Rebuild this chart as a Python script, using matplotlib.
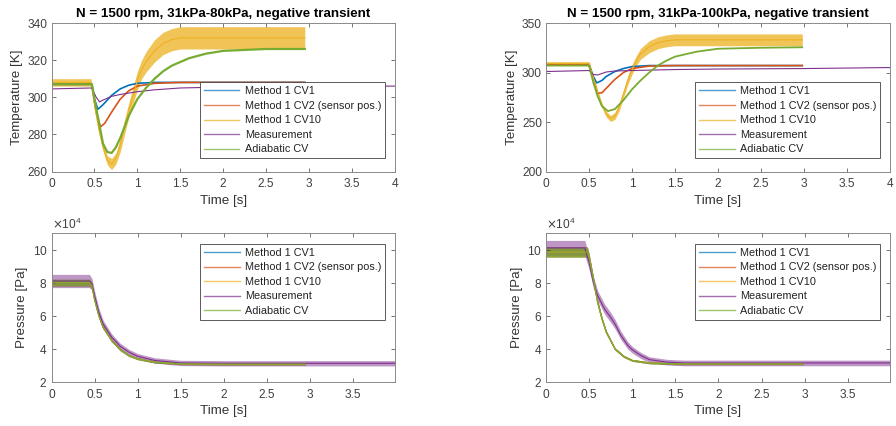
import numpy as np
import matplotlib.pyplot as plt
from matplotlib.lines import Line2D
from matplotlib.ticker import FuncFormatter, MultipleLocator

plt.rcParams['font.family'] = ['Liberation Sans', 'DejaVu Sans']

labels = ['Method 1 CV1', 'Method 1 CV2 (sensor pos.)', 'Method 1 CV10', 'Measurement', 'Adiabatic CV']
colors = ['#0072BD', '#D95319', '#EDB120', '#7E2F8E', '#77AC30']
titles = ['N = 1500 rpm, 31kPa-80kPa, negative transient',
          'N = 1500 rpm, 31kPa-100kPa, negative transient']

# ---- 31kPa-80kPa, temperature [K]
t80_cv1 = [0, 0.47, 0.5, 0.54, 0.6, 0.7, 0.8, 0.9, 1.0, 1.2, 2.95]
T80_cv1 = [307, 307, 299, 293.5, 296, 301, 304.5, 306.5, 307.5, 308, 308]
t80_cv2 = [0, 0.47, 0.52, 0.57, 0.62, 0.7, 0.8, 0.9, 1.0, 1.2, 1.5, 2.95]
T80_cv2 = [307, 307, 292, 284, 286, 292, 299, 303.5, 306, 307.5, 308, 308]
t80_cv10 = [0, 0.46, 0.5, 0.55, 0.6, 0.65, 0.7, 0.75, 0.8, 0.85, 0.9, 0.95, 1.0,
            1.05, 1.1, 1.2, 1.3, 1.4, 1.5, 2.0, 2.5, 2.95]
T80_cv10 = [308, 308, 296, 283, 273, 266, 264, 267, 274, 284, 293, 301, 309,
            315, 319, 325, 329, 331, 332, 332, 332, 332]
A80_cv10 = [2, 2, 2, 2, 2, 2.5, 3, 3, 3.5, 4, 4, 4.5, 5,
            5, 5.5, 6, 6, 6, 6, 6, 6, 6]
t80_meas = [0, 0.47, 0.52, 0.56, 0.6, 0.7, 0.8, 1.0, 1.2, 1.5, 2.0, 3.0, 3.5, 4.0]
T80_meas = [304.5, 305, 300, 297.5, 298.5, 300.5, 301.5, 303, 304, 305, 305.5, 305.5, 306, 306]
t80_adi = [0, 0.47, 0.5, 0.55, 0.6, 0.65, 0.7, 0.75, 0.8, 0.9, 1.0, 1.1, 1.2,
           1.3, 1.4, 1.6, 1.8, 2.0, 2.5, 2.95]
T80_adi = [307, 307, 299, 287, 275, 270.5, 270, 273, 278, 290, 299, 305, 310,
           314, 317, 321, 323.5, 325, 326, 326]

# ---- 31kPa-100kPa, temperature [K]
t100_cv1 = [0, 0.5, 0.55, 0.59, 0.65, 0.7, 0.8, 0.9, 1.0, 1.2, 2.98]
T100_cv1 = [308, 308, 296, 289.5, 292, 296, 301, 304, 306, 307, 307]
t100_cv2 = [0, 0.5, 0.55, 0.6, 0.65, 0.7, 0.8, 0.9, 1.0, 1.2, 1.5, 2.98]
T100_cv2 = [308, 308, 293, 279, 279.5, 284, 293, 300, 304, 306.5, 307, 307]
t100_cv10 = [0, 0.5, 0.55, 0.6, 0.65, 0.7, 0.75, 0.8, 0.85, 0.9, 0.95, 1.0,
             1.05, 1.1, 1.2, 1.3, 1.4, 1.5, 2.0, 2.5, 2.98]
T100_cv10 = [309, 309, 295, 280, 267, 258, 253.5, 256, 265, 278, 292, 303,
             312, 319, 326, 330, 332, 333, 333, 333, 333]
A100_cv10 = [2, 2, 2, 2, 2.5, 3, 3, 3.5, 4, 4, 4.5, 5,
             5, 5.5, 6, 6, 6, 6, 6, 6, 6]
t100_meas = [0, 0.5, 0.55, 0.6, 0.7, 0.8, 1.0, 1.5, 2.0, 3.0, 4.0]
T100_meas = [301, 302, 298, 297.5, 300.5, 301.5, 302, 303, 303.5, 304, 305]
t100_adi = [0, 0.5, 0.55, 0.6, 0.65, 0.72, 0.8, 0.9, 1.0, 1.1, 1.2, 1.3,
            1.4, 1.5, 1.75, 2.0, 2.5, 2.98]
T100_adi = [307, 307, 290, 276, 266, 261, 263, 272, 283, 292, 300, 307,
            312, 316, 321, 324, 325, 325.5]

# ---- pressure [Pa]
p80_t_mod = [0, 0.44, 0.47, 0.5, 0.55, 0.6, 0.7, 0.8, 0.9, 1.0, 1.2, 1.5, 2.0, 2.95]
p80_mod = [80000, 80000, 78000, 70000, 60000, 53000, 45000, 39500, 36000, 34000, 32000, 31000, 30800, 30800]
p80_mod_half = [2000, 2000, 1800, 1500, 1200, 1000, 800, 700, 600, 500, 500, 500, 500, 500]
p80_t_meas = [0, 0.44, 0.47, 0.5, 0.55, 0.6, 0.7, 0.8, 0.9, 1.0, 1.2, 1.5, 2.0, 4.0]
p80_meas = [81000, 81000, 79000, 72000, 62000, 55000, 47000, 41500, 38000, 35500, 33000, 31500, 31300, 31300]
p80_meas_half = [4000, 4000, 3500, 3000, 2500, 2200, 2000, 1800, 1700, 1700, 1600, 1600, 1600, 1600]

p100_t_mod = [0, 0.48, 0.5, 0.53, 0.56, 0.6, 0.65, 0.7, 0.8, 0.9, 1.0, 1.2, 1.5, 2.98]
p100_mod = [98500, 98500, 95000, 87000, 79000, 68000, 58000, 50000, 40000, 35500, 33000, 31500, 31000, 31000]
p100_mod_half = [3000, 3000, 2500, 2000, 1500, 1200, 1000, 800, 700, 600, 500, 500, 500, 500]
p100_t_meas = [0, 0.45, 0.5, 0.55, 0.6, 0.68, 0.75, 0.8, 0.87, 0.95, 1.0, 1.1, 1.2, 1.4, 1.6, 4.0]
p100_meas = [101000, 101000, 92000, 80000, 72000, 64000, 59000, 55000, 48000, 42000, 39500, 36000, 33500, 32000, 31500, 31500]
p100_meas_half = [4500, 4500, 4000, 3500, 3000, 3000, 3000, 2800, 2500, 2200, 2000, 1800, 1700, 1700, 1700, 1700]


def draw(ax, t, mid, color, half=None, lw=0.8, alpha=0.75):
    ax.plot(t, mid, color=color, lw=lw)
    if half is not None:
        ax.fill_between(t, np.subtract(mid, half), np.add(mid, half),
                        color=color, alpha=alpha, lw=0)


def style(ax, xmax, ylab):
    ax.set_xlim(0, xmax)
    ax.xaxis.set_major_locator(MultipleLocator(0.5))
    ax.xaxis.set_major_formatter(FuncFormatter(lambda v, p: '%g' % v))
    ax.tick_params(direction='in', length=3, width=0.5, labelsize=8.6,
                   colors='#404040', top=True, right=True, pad=3)
    ax.tick_params(axis='x', pad=5)
    for s in ax.spines.values():
        s.set_color('#8a8a8a')
        s.set_linewidth(0.7)
    ax.set_xlabel('Time [s]', fontsize=9.6, color='#333333', labelpad=3)
    ax.set_ylabel(ylab, fontsize=9.6, color='#333333', labelpad=3)


def add_legend(ax, x0, y0):
    handles = [Line2D([], [], color=c, lw=1, alpha=0.7) for c in colors]
    leg = ax.legend(handles, labels, loc='upper left', bbox_to_anchor=(x0, y0),
                    fontsize=7.8, frameon=True, fancybox=False, framealpha=1,
                    edgecolor='#404040', borderaxespad=0, handlelength=3.3,
                    labelspacing=0.42, borderpad=0.35, handletextpad=0.5)
    leg.get_frame().set_linewidth(0.6)
    for txt in leg.get_texts():
        txt.set_color('#222222')


fig = plt.figure(figsize=(8.96, 4.26), dpi=100)
ax1 = fig.add_axes([0.0575, 0.5974, 0.3833, 0.3486])
ax2 = fig.add_axes([0.6094, 0.5974, 0.3839, 0.3486])
ax3 = fig.add_axes([0.0575, 0.1033, 0.3833, 0.3498])
ax4 = fig.add_axes([0.6094, 0.1033, 0.3839, 0.3498])

# temperature, 80 kPa
draw(ax1, t80_cv1, T80_cv1, colors[0], lw=1.2)
draw(ax1, t80_cv2, T80_cv2, colors[1], lw=1.2)
draw(ax1, t80_cv10, T80_cv10, colors[2], half=A80_cv10)
draw(ax1, t80_meas, T80_meas, colors[3])
draw(ax1, t80_adi, T80_adi, colors[4], lw=1.6)
ax1.set_ylim(260, 340)
ax1.yaxis.set_major_locator(MultipleLocator(20))
style(ax1, 4, 'Temperature [K]')
ax1.set_title(titles[0], fontsize=9.6, fontweight='bold', pad=4)
add_legend(ax1, 0.432, 0.60)

# temperature, 100 kPa
draw(ax2, t100_cv1, T100_cv1, colors[0], lw=1.2)
draw(ax2, t100_cv2, T100_cv2, colors[1], lw=1.2)
draw(ax2, t100_cv10, T100_cv10, colors[2], half=A100_cv10)
draw(ax2, t100_meas, T100_meas, colors[3])
draw(ax2, t100_adi, T100_adi, colors[4], lw=1.3)
ax2.set_ylim(200, 350)
ax2.yaxis.set_major_locator(MultipleLocator(50))
style(ax2, 4, 'Temperature [K]')
ax2.set_title(titles[1], fontsize=9.6, fontweight='bold', pad=4)
add_legend(ax2, 0.433, 0.60)

# pressure
for ax, tm, pm, hm, tz, pz, hz in [
        (ax3, p80_t_mod, p80_mod, p80_mod_half, p80_t_meas, p80_meas, p80_meas_half),
        (ax4, p100_t_mod, p100_mod, p100_mod_half, p100_t_meas, p100_meas, p100_meas_half)]:
    draw(ax, tm, pm, colors[0], half=hm, alpha=0.5)
    draw(ax, tm, pm, colors[1], half=hm, alpha=0.5)
    draw(ax, tm, pm, colors[2], half=hm, alpha=0.5)
    draw(ax, tz, pz, colors[3], half=hz, alpha=0.5)
    draw(ax, tm, pm, colors[4], half=hm, alpha=0.7)
    ax.set_ylim(20000, 110000)
    ax.yaxis.set_major_locator(MultipleLocator(20000))
    ax.ticklabel_format(axis='y', style='sci', scilimits=(4, 4), useMathText=True)
    ax.yaxis.get_offset_text().set_fontsize(8.6)
    ax.yaxis.get_offset_text().set_color('#404040')
    style(ax, 3.99, 'Pressure [Pa]')
    add_legend(ax, 0.433, 0.926)

fig.savefig('out.png', dpi=100)
